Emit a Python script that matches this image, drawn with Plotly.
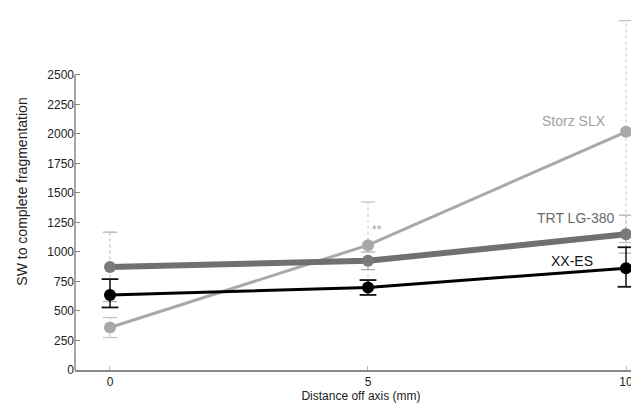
import plotly.graph_objects as go

distance = [0, 5, 10]

xx_es = [636, 700, 862]
xx_es_lo = [530, 636, 705]
xx_es_hi = [770, 762, 1040]

trt = [872, 925, 1150]
trt_lo = [580, 850, 990]
trt_hi = [1168, 1000, 1312]

storz = [360, 1058, 2018]
storz_lo = [275, 690, 1080]
storz_hi = [445, 1424, 2960]

series_labels = ["Storz SLX", "TRT LG-380", "XX-ES"]
label_x = [9.0, 9.03, 8.95]
label_y = [2110, 1290, 925]

ytick_vals = [0, 250, 500, 750, 1000, 1250, 1500, 1750, 2000, 2250, 2500]
xtick_vals = [0, 5, 10]

FONT = "Liberation Sans, Arial, sans-serif"
fig = go.Figure()

def add_err(x, lo, hi, color, dash, width, capsize):
    for xi, l, h in zip(x, lo, hi):
        fig.add_trace(go.Scatter(x=[xi, xi], y=[l, h], mode="lines",
                                 line=dict(color=color, width=width, dash=dash),
                                 showlegend=False, hoverinfo="skip"))
    fig.add_trace(go.Scatter(x=list(x) + list(x), y=list(lo) + list(hi), mode="markers",
                             marker=dict(symbol="line-ew", size=capsize,
                                         line=dict(color=color, width=width + 0.3)),
                             showlegend=False, hoverinfo="skip"))

# faint dotted error bars for Storz and TRT
add_err(distance, storz_lo, storz_hi, "#c4c4c4", "dot", 1, 10)
add_err(distance, trt_lo, trt_hi, "#b0b0b0", "dot", 1, 10)

# Storz line
fig.add_trace(go.Scatter(x=distance, y=storz, mode="lines+markers",
                         line=dict(color="#a9a9a9", width=3),
                         marker=dict(color="#a9a9a9", size=12),
                         name="Storz SLX", showlegend=False))
# TRT line
fig.add_trace(go.Scatter(x=distance, y=trt, mode="lines+markers",
                         line=dict(color="#707070", width=6),
                         marker=dict(color="#7a7a7a", size=12),
                         name="TRT LG-380", showlegend=False))
# XX-ES error bars and line
add_err(distance, xx_es_lo, xx_es_hi, "#111111", "solid", 1.5, 12)
fig.add_trace(go.Scatter(x=distance, y=xx_es, mode="lines+markers",
                         line=dict(color="#000000", width=3),
                         marker=dict(color="#000000", size=12),
                         name="XX-ES", showlegend=False))

label_colors = ["#a0a0a0", "#6a6a6a", "#111111"]
for t, lx, ly, c in zip(series_labels, label_x, label_y, label_colors):
    fig.add_annotation(x=lx, y=ly, text=t, showarrow=False,
                       font=dict(family=FONT, size=14, color=c))

# significance markers
fig.add_annotation(x=5, y=storz[1], text="**", showarrow=False, xanchor="left",
                   xshift=2, yshift=15, font=dict(family=FONT, size=12, color="#a0a0a0"))
fig.add_annotation(x=10, y=storz[2], text="**", showarrow=False, xanchor="left",
                   xshift=4, yshift=0, borderpad=0,
                   font=dict(family=FONT, size=11, color="#a0a0a0"))
fig.add_annotation(x=10, y=xx_es[2], text="*", showarrow=False, xanchor="left",
                   xshift=6, yshift=-2, borderpad=0,
                   font=dict(family=FONT, size=13, color="#222222"))

# y-axis line only up to 2500
fig.add_shape(type="line", xref="paper", x0=0, x1=0, yref="y", y0=0, y1=ytick_vals[-1],
              line=dict(color="#888888", width=1.5))

fig.update_layout(
    width=639, height=403,
    margin=dict(l=67, r=0, t=5, b=41),
    paper_bgcolor="white", plot_bgcolor="white",
    font=dict(family=FONT, size=12, color="#222222"),
    xaxis=dict(range=[-0.678, 10.407], tickvals=xtick_vals, ticks="inside", ticklen=4,
               tickcolor="#bbbbbb", showline=True, linecolor="#888888", linewidth=1.5,
               showgrid=False, zeroline=False,
               title=dict(text="Distance off axis (mm)", font=dict(size=12), standoff=3),
               tickfont=dict(size=12)),
    yaxis=dict(range=[0, 3025], tickvals=ytick_vals, ticks="inside", ticklen=5,
               tickcolor="#888888", showline=False, showgrid=False, zeroline=False,
               title=dict(text="SW to complete fragmentation", font=dict(size=14), standoff=16),
               tickfont=dict(size=12)),
)

fig.write_html("out.html")
